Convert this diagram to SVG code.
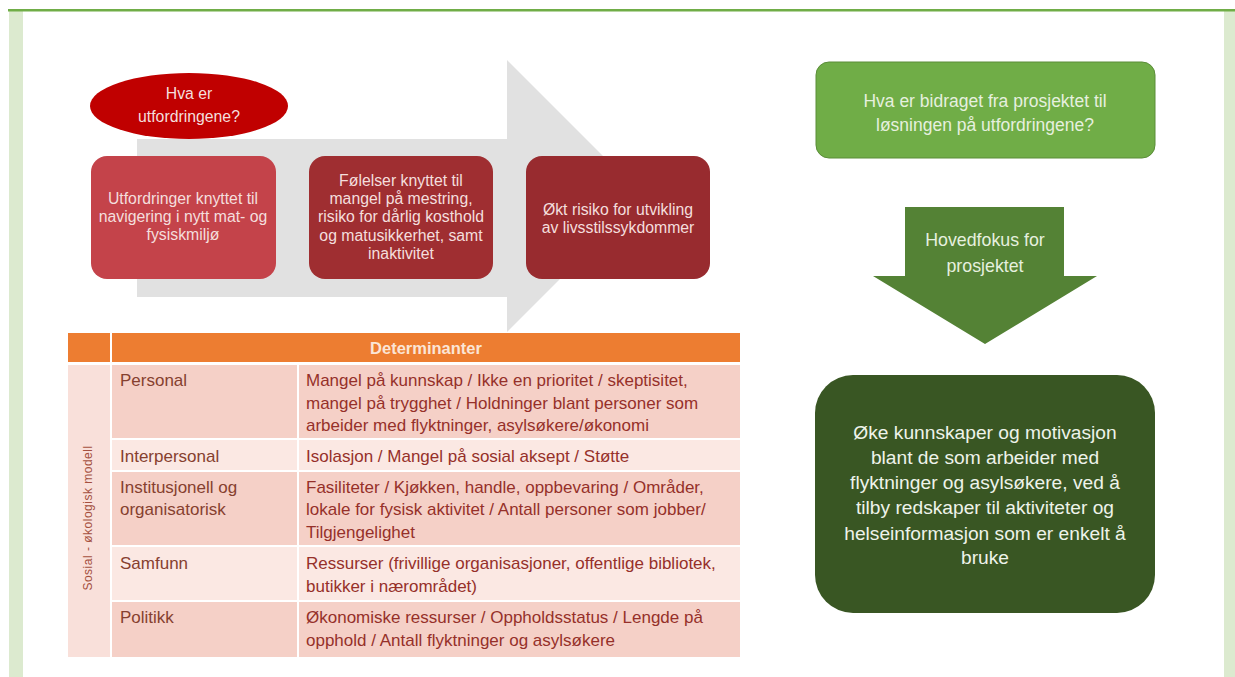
<svg xmlns="http://www.w3.org/2000/svg" width="1235" height="677" viewBox="0 0 1235 677">
<style>
.t{font-family:"Liberation Sans",Arial,sans-serif;text-anchor:middle}
.red{fill:#f4dedd;font-size:15.8px}
.lg{fill:#e6f0df}
.tb{font-family:"Liberation Sans",Arial,sans-serif;font-size:17px}
.c2{fill:#86402f}
.c3{fill:#96302a}
.dark{fill:#f5d0c7}
.light{fill:#fbe8e3}
</style>
<rect width="1235" height="677" fill="#ffffff"/>
<g id="frame">
<rect x="9" y="11" width="14" height="666" fill="#dceacf"/>
<rect x="1224" y="11" width="11" height="666" fill="#dceacf"/>
<rect x="8" y="9" width="1227" height="2.5" fill="#70ad47"/>
</g>
<g id="connectors">
<polygon points="137,139 507,139 507,60 643,196 507,332 507,297 137,297" fill="#e1e1e1"/>
<polygon points="905,207 1064,207 1064,276 1097,276 985,344 873,276 905,276" fill="#548235"/>
<text class="t lg" x="985" y="246" font-size="17.8">Hovedfokus for</text>
<text class="t lg" x="985" y="272" font-size="17.8">prosjektet</text>
</g>
<g id="q-challenges">
<ellipse cx="189" cy="106" rx="99" ry="33" fill="#c00000"/>
<text class="t red" x="189" y="99" font-size="19">Hva er</text>
<text class="t red" x="189" y="122" font-size="19">utfordringene?</text>
</g>
<g id="box1">
<rect x="91" y="156" width="185" height="123" rx="16" fill="#c4434a"/>
<text class="t red" x="183" y="204">Utfordringer knyttet til</text>
<text class="t red" x="183" y="222">navigering i nytt mat- og</text>
<text class="t red" x="183" y="240">fysiskmiljø</text>
</g>
<g id="box2">
<rect x="309" y="156" width="184" height="123" rx="16" fill="#9f2e31"/>
<text class="t red" x="401" y="186">Følelser knyttet til</text>
<text class="t red" x="401" y="204">mangel på mestring,</text>
<text class="t red" x="401" y="222">risiko for dårlig kosthold</text>
<text class="t red" x="401" y="241">og matusikkerhet, samt</text>
<text class="t red" x="401" y="259">inaktivitet</text>
</g>
<g id="box3">
<rect x="526" y="156" width="184" height="123" rx="16" fill="#982b2f"/>
<text class="t red" x="618" y="215">Økt risiko for utvikling</text>
<text class="t red" x="618" y="233">av livsstilssykdommer</text>
</g>
<g id="q-contribution">
<rect x="816" y="62" width="339" height="96" rx="13" fill="#70ad47" stroke="#5a8d38" stroke-width="1"/>
<text class="t lg" x="985" y="107" font-size="17.5">Hva er bidraget fra prosjektet til</text>
<text class="t lg" x="985" y="131" font-size="17.5">løsningen på utfordringene?</text>
</g>
<g id="main-focus">
<rect x="815" y="375" width="340" height="238" rx="38" fill="#395623"/>
<text class="t" fill="#eef3ea" font-size="19.2" x="985" y="439">Øke kunnskaper og motivasjon</text>
<text class="t" fill="#eef3ea" font-size="19.2" x="985" y="464">blant de som arbeider med</text>
<text class="t" fill="#eef3ea" font-size="19.2" x="985" y="489">flyktninger og asylsøkere, ved å</text>
<text class="t" fill="#eef3ea" font-size="19.2" x="985" y="514">tilby redskaper til aktiviteter og</text>
<text class="t" fill="#eef3ea" font-size="19.2" x="985" y="540">helseinformasjon som er enkelt å</text>
<text class="t" fill="#eef3ea" font-size="19.2" x="985" y="564">bruke</text>
</g>
<g id="table">
<rect x="68" y="333" width="42" height="29" fill="#ed7d31"/>
<rect x="112" y="333" width="628" height="29" fill="#ed7d31"/>
<text x="426" y="354" font-family="Liberation Sans,Arial,sans-serif" font-size="16.5" font-weight="bold" fill="#fbe5d6" text-anchor="middle">Determinanter</text>
<rect x="68" y="365" width="42" height="292" fill="#f9e0da"/>
<text transform="translate(92,518) rotate(-90)" font-family="Liberation Sans,Arial,sans-serif" font-size="12" fill="#a5503e" text-anchor="middle" letter-spacing="0.5">Sosial - økologisk modell</text>
<rect class="dark" x="112" y="365" width="185" height="73"/>
<rect class="dark" x="299" y="365" width="441" height="73"/>
<rect class="light" x="112" y="440" width="185" height="30"/>
<rect class="light" x="299" y="440" width="441" height="30"/>
<rect class="dark" x="112" y="472" width="185" height="73"/>
<rect class="dark" x="299" y="472" width="441" height="73"/>
<rect class="light" x="112" y="547" width="185" height="53"/>
<rect class="light" x="299" y="547" width="441" height="53"/>
<rect class="dark" x="112" y="602" width="185" height="55"/>
<rect class="dark" x="299" y="602" width="441" height="55"/>
<g class="tb c2">
<text x="120" y="386">Personal</text>
<text x="120" y="462">Interpersonal</text>
<text x="120" y="493">Institusjonell og</text>
<text x="120" y="515">organisatorisk</text>
<text x="120" y="569">Samfunn</text>
<text x="120" y="623">Politikk</text>
</g>
<g class="tb c3">
<text x="306" y="386">Mangel på kunnskap / Ikke en prioritet / skeptisitet,</text>
<text x="306" y="409">mangel på trygghet / Holdninger blant personer som</text>
<text x="306" y="431">arbeider med flyktninger, asylsøkere/økonomi</text>
<text x="306" y="462">Isolasjon / Mangel på sosial aksept / Støtte</text>
<text x="306" y="493">Fasiliteter / Kjøkken, handle, oppbevaring / Områder,</text>
<text x="306" y="515">lokale for fysisk aktivitet / Antall personer som jobber/</text>
<text x="306" y="538">Tilgjengelighet</text>
<text x="306" y="569">Ressurser (frivillige organisasjoner, offentlige bibliotek,</text>
<text x="306" y="592">butikker i nærområdet)</text>
<text x="306" y="623">Økonomiske ressurser / Oppholdsstatus / Lengde på</text>
<text x="306" y="646">opphold / Antall flyktninger og asylsøkere</text>
</g>
</g>
</svg>
